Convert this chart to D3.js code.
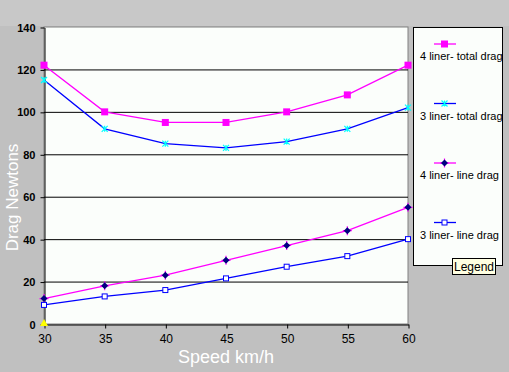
<!DOCTYPE html>
<html>
<head>
<meta charset="utf-8">
<script src="https://cdn.jsdelivr.net/npm/d3@7"></script>
<style>
  body { margin: 0; background: #c0c0c0; }
  svg { display: block; font-family: Arial, "Liberation Sans", sans-serif; }
</style>
</head>
<body>
<svg id="chart" width="509" height="372"></svg>
<script>
// data
const speeds = [30, 35, 40, 45, 50, 55, 60];
const fourTotal = [122, 100, 95, 95, 100, 108, 122];
const threeTotal = [115, 92, 85, 83, 86, 92, 102];
const fourLine = [12, 18, 23, 30, 37, 44, 55];
const threeLine = [9, 13, 16, 21.5, 27, 32, 40];
const strayPoint = [{x: 30, y: 0}];
const yTicks = [0, 20, 40, 60, 80, 100, 120, 140];
const seriesNames = ["4 liner- total drag", "3 liner- total drag", "4 liner- line drag", "3 liner- line drag"];

const series = [
  {name: seriesNames[0], values: fourTotal, color: "#ff00ff", marker: "bigsquare"},
  {name: seriesNames[1], values: threeTotal, color: "#0000ff", marker: "star"},
  {name: seriesNames[2], values: fourLine, color: "#ff00ff", marker: "diamond"},
  {name: seriesNames[3], values: threeLine, color: "#0000ff", marker: "opensquare"}
];

const margin = {top: 27, left: 44, right: 101, bottom: 48};
const W = 509, H = 372;

const svg = d3.select("#chart");

// lighter strip at the top
svg.append("rect").attr("x", 0).attr("y", 0).attr("width", W).attr("height", 26)
  .attr("fill", "#c8c8c8");

const x = d3.scaleLinear().domain([30, 60]).range([margin.left, W - margin.right]);
const y = d3.scaleLinear().domain([0, 140]).range([H - margin.bottom, margin.top]);

// plot area
svg.append("rect")
  .attr("x", x(30)).attr("y", y(140))
  .attr("width", x(60) - x(30)).attr("height", y(0) - y(140))
  .attr("fill", "#fbfefb").attr("stroke", "#808080");

// gridlines
svg.append("g").selectAll("line").data(yTicks.filter(d => d > 0 && d < 140)).join("line")
  .attr("x1", x(30)).attr("x2", x(60))
  .attr("y1", d => y(d) + 0.5).attr("y2", d => y(d) + 0.5)
  .attr("stroke", "#000");

// axes
const yAxis = d3.axisLeft(y).tickValues(yTicks).tickSize(4).tickSizeOuter(0);
const gy = svg.append("g").attr("transform", `translate(${x(30) + 0.5},0.5)`).call(yAxis);
gy.select(".domain").attr("stroke", "#000");
gy.selectAll("text").attr("font-size", 11).attr("font-weight", "bold")
  .attr("font-family", "Arial, sans-serif").attr("fill", "#000").attr("x", -9);

const xAxis = d3.axisBottom(x).tickValues(speeds).tickSize(4).tickSizeOuter(0);
const gx = svg.append("g").attr("transform", `translate(0.5,${y(0) + 0.5})`).call(xAxis);
gx.select(".domain").attr("stroke", "#000");
gx.selectAll("text").attr("font-size", 12).attr("font-family", "Arial, sans-serif")
  .attr("fill", "#000").attr("y", 10);

// titles
svg.append("text")
  .attr("transform", `translate(18,${(y(0) + y(140)) / 2 + 22}) rotate(-90)`)
  .attr("text-anchor", "middle").attr("fill", "#fff").attr("font-size", 17)
  .text("Drag Newtons");

svg.append("text")
  .attr("x", 226).attr("y", 363)
  .attr("text-anchor", "middle").attr("fill", "#fff").attr("font-size", 18)
  .text("Speed km/h");

// lines
const line = d3.line().x((d, i) => x(speeds[i])).y(d => y(d));

function drawMarker(g, type, color) {
  if (type === "bigsquare") {
    g.append("rect").attr("x", -3.5).attr("y", -3.5).attr("width", 7).attr("height", 7)
      .attr("fill", color);
  } else if (type === "star") {
    g.append("path").attr("d", "M-3,-3L3,3M-3,3L3,-3M0,-3L0,3")
      .attr("stroke", "#00ffff").attr("stroke-width", 1.2).attr("fill", "none");
  } else if (type === "diamond") {
    g.append("path").attr("d", "M0,-4.5L0,4.5M-4.5,0L4.5,0")
      .attr("stroke", color).attr("stroke-width", 1.2);
    g.append("path").attr("d", "M0,-3.5L3.5,0L0,3.5L-3.5,0Z").attr("fill", "#000080");
  } else if (type === "opensquare") {
    g.append("rect").attr("x", -2.5).attr("y", -2.5).attr("width", 5).attr("height", 5)
      .attr("fill", "#fff").attr("stroke", color);
  }
}

series.forEach(s => {
  svg.append("path").datum(s.values)
    .attr("d", line).attr("fill", "none").attr("stroke", s.color).attr("stroke-width", 1.3);
  s.values.forEach((v, i) => {
    const g = svg.append("g").attr("transform", `translate(${x(speeds[i])},${y(v)})`);
    drawMarker(g, s.marker, s.color);
  });
});

// stray yellow point
svg.selectAll(".stray").data(strayPoint).join("path")
  .attr("class", "stray")
  .attr("transform", d => `translate(${x(d.x)},${y(d.y) - 1})`)
  .attr("d", "M0,-4L4,3L-4,3Z").attr("fill", "#ffff00");

// legend
const lg = svg.append("g");
lg.append("rect").attr("x", 413.5).attr("y", 27.5).attr("width", 89).attr("height", 238)
  .attr("fill", "#fbfefb").attr("stroke", "#000");
series.forEach((s, i) => {
  const ly = 44 + i * 59.5;
  lg.append("line").attr("x1", 434).attr("x2", 456).attr("y1", ly).attr("y2", ly)
    .attr("stroke", s.color).attr("stroke-width", 1.3);
  drawMarker(lg.append("g").attr("transform", `translate(444.5,${ly})`), s.marker, s.color);
  lg.append("text").attr("x", 420).attr("y", ly + 16).attr("font-size", 11)
    .attr("fill", "#000").text(s.name);
});

// tooltip
const tip = svg.append("g");
tip.append("rect").attr("x", 452.5).attr("y", 258.5).attr("width", 43).attr("height", 16)
  .attr("fill", "#ffffe1").attr("stroke", "#000");
tip.append("text").attr("x", 474).attr("y", 271).attr("text-anchor", "middle")
  .attr("font-size", 12).attr("fill", "#000").text("Legend");
</script>
</body>
</html>
